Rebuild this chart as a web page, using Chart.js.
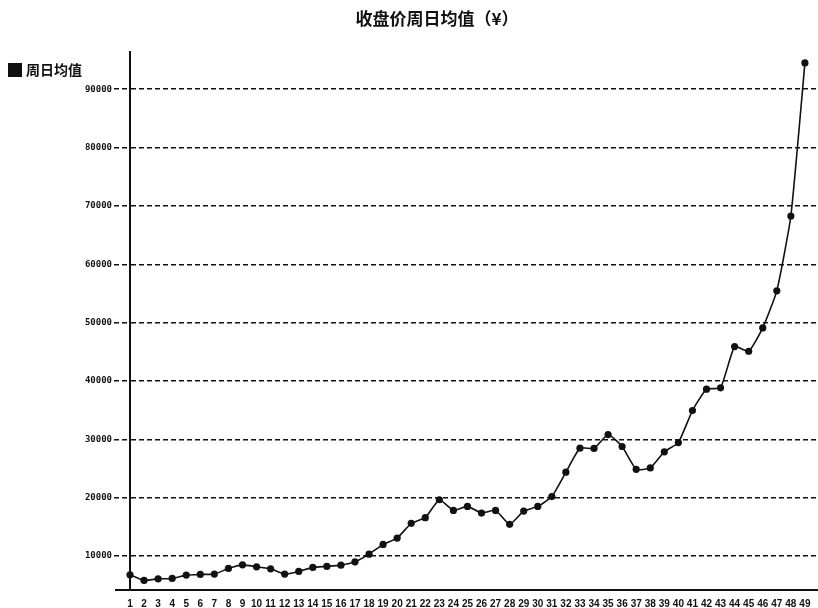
<!DOCTYPE html>
<html>
<head>
<meta charset="utf-8">
<title>收盘价周日均值</title>
<script src="https://cdn.jsdelivr.net/npm/chart.js@4/dist/chart.umd.min.js"></script>
<style>
  html, body { margin: 0; padding: 0; background: #fff; }
  #wrap { width: 818px; height: 608px; }
</style>
</head>
<body>
<div id="wrap"><canvas id="c" width="818" height="608"></canvas></div>
<script>
// Week numbers along the x axis
const weeks = ['1','2','3','4','5','6','7','8','9','10','11','12','13','14','15','16','17','18','19','20',
  '21','22','23','24','25','26','27','28','29','30','31','32','33','34','35','36','37','38','39','40',
  '41','42','43','44','45','46','47','48','49'];

// Weekly average closing price (¥)
const weeklyAvg = [6800, 5840, 6110, 6180, 6750, 6870, 6920, 7890, 8510, 8170,
  7830, 6920, 7380, 8070, 8240, 8460, 9020, 10340, 12000, 13100,
  15620, 16590, 19660, 17840, 18520, 17380, 17840, 15450, 17720, 18520,
  20200, 24380, 28500, 28450, 30830, 28780, 24880, 25110, 27880, 29450,
  34950, 38610, 38830, 45900, 45100, 49100, 55450, 68270, 94500];

// Value-axis tick labels
const yTicks = [10000, 20000, 30000, 40000, 50000, 60000, 70000, 80000, 90000];

const seriesName = '周日均值';
const chartTitle = '收盘价周日均值（¥）';

// Legend drawn in the top-left corner, over the axis gutter
const cornerLegend = {
  id: 'cornerLegend',
  afterDraw(chart) {
    const ctx = chart.ctx;
    const ds = chart.data.datasets[0];
    ctx.save();
    ctx.fillStyle = '#111';
    ctx.fillRect(8, 63, 14, 14);
    ctx.font = 'bold 14px "Noto Sans CJK SC", sans-serif';
    ctx.textBaseline = 'middle';
    ctx.textAlign = 'left';
    ctx.fillText(ds.label, 26, 70);
    ctx.restore();
  }
};

// Short extension of the category axis line into the tick gutter
const axisStub = {
  id: 'axisStub',
  afterDraw(chart) {
    const { ctx, chartArea } = chart;
    ctx.save();
    ctx.strokeStyle = '#111';
    ctx.lineWidth = 2;
    ctx.beginPath();
    ctx.moveTo(chartArea.left - 15, chartArea.bottom);
    ctx.lineTo(chartArea.left, chartArea.bottom);
    ctx.stroke();
    ctx.restore();
  }
};

new Chart(document.getElementById('c'), {
  type: 'line',
  data: {
    datasets: [{
      label: seriesName,
      data: weeklyAvg.map((v, i) => ({ x: i + 1, y: v })),
      borderColor: '#111',
      backgroundColor: '#111',
      borderWidth: 1.6,
      pointRadius: 3.6,
      pointBackgroundColor: '#111',
      pointBorderColor: '#111',
      pointBorderWidth: 0,
      tension: 0.15,
      clip: false
    }]
  },
  options: {
    responsive: false,
    devicePixelRatio: 1,
    animation: false,
    layout: { autoPadding: false, padding: { left: 56, right: 0, top: 0, bottom: 0 } },
    plugins: {
      legend: { display: false },
      tooltip: { enabled: false },
      title: {
        display: true,
        text: chartTitle,
        color: '#111',
        font: { family: '"Noto Sans CJK SC", sans-serif', size: 17, weight: 'bold' },
        padding: { top: 8, bottom: 24 }
      }
    },
    scales: {
      x: {
        type: 'linear',
        min: 1,
        max: 49.93,
        afterBuildTicks(scale) {
          scale.ticks = weeks.map((w, i) => ({ value: i + 1 }));
        },
        afterFit(scale) {
          scale.height = 18;
          scale.paddingLeft = 0;
          scale.paddingRight = 0;
        },
        grid: { display: false, drawTicks: false },
        border: { display: true, color: '#111', width: 2 },
        ticks: {
          autoSkip: false,
          maxRotation: 0,
          padding: 8,
          color: '#111',
          font: { family: '"Liberation Sans", Arial, sans-serif', size: 10, weight: 'bold' },
          callback: (v, i) => weeks[i]
        }
      },
      y: {
        min: 4200,
        max: 96300,
        afterBuildTicks(scale) {
          scale.ticks = yTicks.map(v => ({ value: v }));
        },
        afterFit(scale) { scale.width = 74; },
        grid: {
          color: '#111',
          lineWidth: 1.5,
          tickBorderDash: [5, 3],
          tickColor: '#111',
          tickLength: 16,
          drawTicks: true
        },
        border: { display: true, color: '#111', width: 2, dash: [5, 3] },
        ticks: {
          padding: 2,
          color: '#111',
          font: { family: '"DejaVu Sans Mono", monospace', size: 9, weight: 'bold' },
          callback: v => String(v)
        }
      }
    }
  },
  plugins: [cornerLegend, axisStub]
});
</script>
</body>
</html>
